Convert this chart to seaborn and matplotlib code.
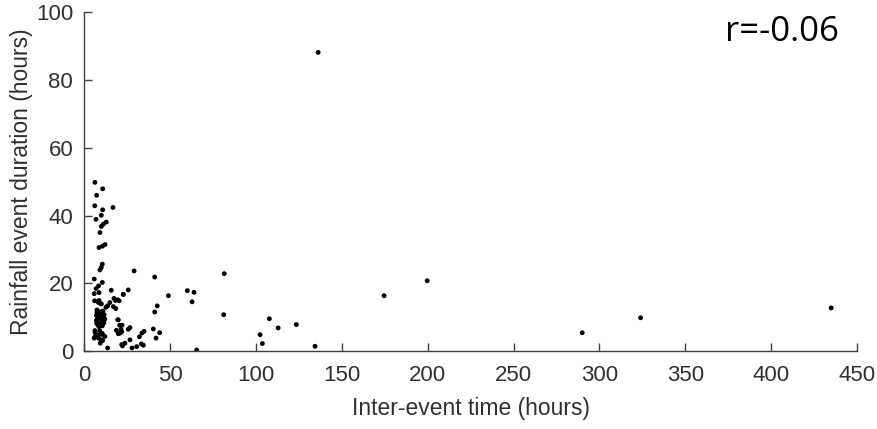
import matplotlib
matplotlib.use("Agg")
import matplotlib.pyplot as plt
import seaborn as sns
import pandas as pd

inter_event = [
    6.2, 10.7, 7.2, 6.1, 10.7, 16.7, 9.9, 6.8, 12.8, 11.1, 9.9, 9.1, 12.1, 8.6, 10.6,
    10.5, 9.9, 9.1, 29.0, 41.0, 5.8, 10.5, 8.3, 6.9, 15.7, 25.6, 5.8, 22.7, 49.0, 60.0,
    63.9, 62.8, 17.3, 18.1, 20.3, 14.9, 6.0, 8.6, 9.9, 42.5, 41.0, 16.9, 12.6, 7.4, 8.8,
    10.9, 7.0, 9.8, 11.6, 7.6, 9.5, 11.9, 19.5, 7.2, 9.2, 11.4, 8.5, 20.6, 22.0, 26.6,
    40.2, 18.7, 20.9, 19.8, 34.8, 33.6, 43.9, 32.1, 41.8, 6.3, 8.1, 10.4, 6.1, 8.4, 9.9,
    9.3, 10.7, 33.2, 23.7, 22.3, 13.6, 27.8, 65.5,
    8.6, 8.2, 9.7, 13.6, 19.4, 22.7, 18.3, 7.4, 9.7, 8.2, 11.1, 7.0, 10.1, 19.8, 7.8,
    10.5, 21.4, 21.8, 25.6, 6.2, 9.0, 10.5, 5.8, 12.0, 30.5, 34.4, 26.6, 21.8,
    136.2, 174.6, 199.7, 290.0, 324.0, 435.0,
    81.5, 81.2, 107.8, 112.9, 123.5, 102.4, 103.7, 134.4,
]
duration = [
    49.8, 47.9, 46.0, 42.9, 41.7, 42.4, 40.1, 38.9, 38.1, 37.5, 36.8, 35.0, 31.5, 30.6, 31.0,
    25.7, 24.7, 24.0, 23.7, 21.9, 21.3, 20.3, 19.3, 18.5, 18.0, 18.1, 17.0, 16.8, 16.4, 17.9,
    17.4, 14.6, 15.6, 15.0, 14.9, 14.4, 14.9, 15.0, 14.0, 13.4, 11.6, 13.2, 13.0, 12.2, 11.7,
    11.9, 10.6, 11.0, 10.8, 9.5, 9.6, 9.5, 9.3, 8.3, 8.2, 8.4, 7.3, 7.7, 7.7, 7.0,
    6.6, 6.2, 5.4, 5.2, 5.9, 5.4, 5.5, 4.3, 3.9, 5.5, 4.8, 5.0, 4.2, 3.9, 3.4,
    2.4, 3.2, 2.2, 2.4, 1.6, 1.0, 1.0, 0.4,
    17.3, 14.4, 14.0, 13.4, 15.2, 16.8, 12.6, 11.5, 11.5, 10.5, 10.1, 9.1, 8.7, 9.3, 7.9,
    7.5, 6.5, 5.8, 6.5, 6.1, 6.1, 5.3, 3.9, 4.4, 1.4, 1.8, 3.4, 2.0,
    88.1, 16.4, 20.8, 5.5, 9.9, 12.8,
    22.9, 10.8, 9.6, 6.9, 7.9, 4.9, 2.3, 1.5,
]

x_ticks = [0, 50, 100, 150, 200, 250, 300, 350, 400, 450]
y_ticks = [0, 20, 40, 60, 80, 100]
x_label = "Inter-event time (hours)"
y_label = "Rainfall event duration (hours)"
annotation = "r=-0.06"

df = pd.DataFrame({"x": inter_event, "y": duration})

sns.set_theme(style="ticks")
plt.rcParams["font.family"] = ["Liberation Sans", "DejaVu Sans"]

fig = plt.figure(figsize=(8.78, 4.29), dpi=100)
ax = fig.add_axes([0.096, 0.181, 0.880, 0.791])

sns.scatterplot(data=df, x="x", y="y", ax=ax, color="black", s=12,
                edgecolor="none", legend=False)

ax.set_xlim(0, 450)
ax.set_ylim(0, 100)
ax.set_xticks(x_ticks)
ax.set_yticks(y_ticks)
axis_color = "#404040"
ax.tick_params(direction="in", length=6, width=1, colors=axis_color,
               labelsize=16, labelcolor="#303030")
ax.tick_params(axis="x", pad=10)
ax.tick_params(axis="y", pad=8)
for s in ["top", "right"]:
    ax.spines[s].set_visible(False)
for s in ["left", "bottom"]:
    ax.spines[s].set_color(axis_color)
    ax.spines[s].set_linewidth(1)

ax.set_xlabel(x_label, fontsize=16.5, color="#303030", labelpad=8)
ax.set_ylabel(y_label, fontsize=16.5, color="#303030", labelpad=2)

fig.text(0.955, 0.925, annotation, fontsize=25, color="black",
         family=["Open Sans", "DejaVu Sans"], ha="right", va="center")

fig.savefig("out.png", dpi=100)
